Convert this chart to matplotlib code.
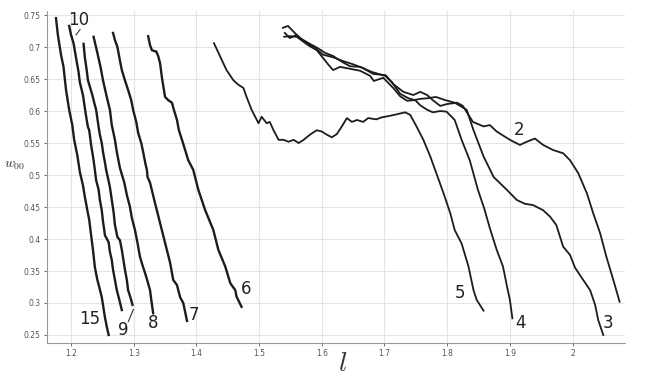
import numpy as np
import matplotlib
import matplotlib.pyplot as plt
from matplotlib.ticker import FixedLocator, FixedFormatter

matplotlib.use("Agg")

# curves, labelled by number
l_15 = [1.176, 1.179, 1.184, 1.188, 1.192, 1.197, 1.202, 1.205, 1.210, 1.214, 1.219, 1.222,
        1.226, 1.229, 1.232, 1.235, 1.238, 1.242, 1.245, 1.249, 1.251, 1.254, 1.257, 1.260]
w_15 = [0.745, 0.719, 0.688, 0.669, 0.633, 0.602, 0.578, 0.555, 0.531, 0.505, 0.484, 0.466,
        0.445, 0.430, 0.406, 0.383, 0.356, 0.336, 0.325, 0.309, 0.297, 0.278, 0.263, 0.250]

l_10 = [1.197, 1.200, 1.204, 1.208, 1.212, 1.214, 1.219, 1.222, 1.225, 1.227, 1.229, 1.232,
        1.236, 1.238, 1.240, 1.244, 1.246, 1.249, 1.251, 1.253, 1.254, 1.260, 1.262, 1.265,
        1.267, 1.270, 1.273, 1.277, 1.281]
w_10 = [0.733, 0.719, 0.706, 0.683, 0.661, 0.645, 0.625, 0.605, 0.586, 0.575, 0.570, 0.547,
        0.523, 0.508, 0.492, 0.477, 0.461, 0.445, 0.427, 0.414, 0.406, 0.395, 0.380, 0.367,
        0.352, 0.336, 0.320, 0.305, 0.289]

l_9 = [1.220, 1.222, 1.225, 1.227, 1.230, 1.234, 1.237, 1.240, 1.244, 1.246, 1.249, 1.251,
       1.254, 1.256, 1.259, 1.262, 1.265, 1.268, 1.270, 1.274, 1.278, 1.281, 1.286, 1.289,
       1.291, 1.295, 1.298]
w_9 = [0.705, 0.684, 0.664, 0.648, 0.638, 0.625, 0.613, 0.602, 0.575, 0.563, 0.550, 0.536,
       0.520, 0.508, 0.495, 0.481, 0.461, 0.441, 0.422, 0.403, 0.398, 0.383, 0.352, 0.336,
       0.320, 0.308, 0.297]

l_8 = [1.236, 1.241, 1.247, 1.251, 1.257, 1.262, 1.265, 1.270, 1.273, 1.278, 1.285, 1.289,
       1.294, 1.297, 1.302, 1.306, 1.310, 1.314, 1.318, 1.322, 1.326, 1.328, 1.331]
w_8 = [0.716, 0.695, 0.669, 0.648, 0.622, 0.602, 0.578, 0.555, 0.536, 0.511, 0.488, 0.469,
       0.450, 0.433, 0.414, 0.394, 0.372, 0.359, 0.347, 0.334, 0.320, 0.305, 0.284]

l_7 = [1.267, 1.270, 1.274, 1.277, 1.281, 1.286, 1.291, 1.296, 1.299, 1.304, 1.307, 1.312,
       1.315, 1.319, 1.321, 1.322, 1.326, 1.334, 1.342, 1.350, 1.358, 1.363, 1.369, 1.374,
       1.379, 1.385]
w_7 = [0.722, 0.711, 0.700, 0.684, 0.664, 0.648, 0.633, 0.617, 0.602, 0.583, 0.566, 0.550,
       0.536, 0.516, 0.508, 0.497, 0.488, 0.456, 0.425, 0.394, 0.363, 0.336, 0.328, 0.309,
       0.300, 0.272]

l_6 = [1.323, 1.326, 1.329, 1.332, 1.336, 1.339, 1.342, 1.345, 1.350, 1.355, 1.361, 1.364,
       1.369, 1.372, 1.377, 1.382, 1.387, 1.395, 1.403, 1.414, 1.427, 1.435, 1.446, 1.454,
       1.462, 1.464, 1.472]
w_6 = [0.717, 0.703, 0.695, 0.694, 0.693, 0.686, 0.675, 0.652, 0.622, 0.617, 0.613, 0.602,
       0.586, 0.570, 0.555, 0.539, 0.523, 0.508, 0.477, 0.445, 0.414, 0.383, 0.357, 0.331,
       0.320, 0.310, 0.294]

l_5 = [1.428, 1.438, 1.448, 1.459, 1.467, 1.475, 1.480, 1.488, 1.499, 1.504, 1.512, 1.517,
       1.523, 1.531, 1.539, 1.547, 1.555, 1.563, 1.571, 1.581, 1.592, 1.600, 1.608, 1.616,
       1.624, 1.632, 1.640, 1.648, 1.656, 1.666, 1.674, 1.687, 1.695, 1.706, 1.720, 1.733,
       1.741, 1.751, 1.762, 1.773, 1.783, 1.794, 1.805, 1.812, 1.823, 1.834, 1.842, 1.847,
       1.858]
w_5 = [0.706, 0.685, 0.664, 0.648, 0.641, 0.636, 0.622, 0.602, 0.581, 0.591, 0.581, 0.583,
       0.570, 0.555, 0.555, 0.552, 0.555, 0.550, 0.555, 0.563, 0.570, 0.568, 0.563, 0.559,
       0.564, 0.576, 0.589, 0.583, 0.586, 0.583, 0.589, 0.587, 0.590, 0.592, 0.595, 0.598,
       0.594, 0.576, 0.555, 0.529, 0.502, 0.472, 0.440, 0.414, 0.393, 0.357, 0.320, 0.305,
       0.288]

l_4 = [1.538, 1.546, 1.554, 1.565, 1.581, 1.594, 1.605, 1.618, 1.632, 1.645, 1.661, 1.680,
       1.701, 1.712, 1.725, 1.738, 1.749, 1.757, 1.768, 1.777, 1.789, 1.799, 1.812, 1.823,
       1.836, 1.849, 1.859, 1.868, 1.879, 1.889, 1.896, 1.900, 1.904]
w_4 = [0.730, 0.733, 0.725, 0.714, 0.705, 0.698, 0.691, 0.686, 0.677, 0.670, 0.669, 0.661,
       0.655, 0.645, 0.627, 0.620, 0.617, 0.609, 0.602, 0.598, 0.600, 0.599, 0.586, 0.555,
       0.523, 0.477, 0.448, 0.417, 0.383, 0.357, 0.323, 0.305, 0.276]

l_3 = [1.540, 1.549, 1.560, 1.578, 1.592, 1.602, 1.610, 1.618, 1.629, 1.645, 1.661, 1.677,
       1.683, 1.698, 1.714, 1.725, 1.736, 1.747, 1.757, 1.769, 1.782, 1.797, 1.812, 1.824,
       1.831, 1.842, 1.858, 1.874, 1.895, 1.911, 1.924, 1.937, 1.953, 1.964, 1.974, 1.985,
       1.996, 2.004, 2.017, 2.028, 2.036, 2.041, 2.049]
w_3 = [0.716, 0.717, 0.716, 0.703, 0.695, 0.683, 0.673, 0.664, 0.669, 0.666, 0.663, 0.655,
       0.647, 0.652, 0.636, 0.623, 0.616, 0.617, 0.619, 0.620, 0.622, 0.617, 0.613, 0.606,
       0.602, 0.570, 0.529, 0.497, 0.477, 0.461, 0.455, 0.453, 0.445, 0.435, 0.422, 0.388,
       0.375, 0.355, 0.336, 0.320, 0.297, 0.273, 0.250]

l_2 = [1.541, 1.549, 1.560, 1.573, 1.591, 1.602, 1.618, 1.634, 1.650, 1.666, 1.682, 1.702,
       1.714, 1.730, 1.746, 1.757, 1.768, 1.777, 1.789, 1.800, 1.816, 1.825, 1.832, 1.841,
       1.858, 1.868, 1.879, 1.900, 1.916, 1.927, 1.940, 1.953, 1.969, 1.985, 1.996, 2.009,
       2.023, 2.033, 2.044, 2.054, 2.065, 2.075]
w_2 = [0.722, 0.714, 0.719, 0.708, 0.697, 0.688, 0.684, 0.678, 0.673, 0.667, 0.658, 0.656,
       0.642, 0.630, 0.625, 0.630, 0.625, 0.617, 0.608, 0.611, 0.613, 0.608, 0.597, 0.583,
       0.576, 0.578, 0.568, 0.555, 0.547, 0.552, 0.557, 0.547, 0.539, 0.534, 0.523, 0.503,
       0.471, 0.440, 0.409, 0.372, 0.336, 0.302]

left_curves = [(l_15, w_15), (l_10, w_10), (l_9, w_9), (l_8, w_8), (l_7, w_7), (l_6, w_6)]
right_curves = [(l_5, w_5), (l_4, w_4), (l_3, w_3), (l_2, w_2)]

curve_labels = ['10', '15', '9', '8', '7', '6', '5', '4', '3', '2']
label_x = [1.212, 1.230, 1.283, 1.331, 1.396, 1.479, 1.821, 1.917, 2.057, 1.915]
label_y = [0.742, 0.275, 0.258, 0.268, 0.282, 0.322, 0.316, 0.268, 0.268, 0.571]

# little pointer strokes for 10 and 9
pointer_10 = ([1.208, 1.2145], [0.719, 0.7275])
pointer_9 = ([1.2915, 1.2995], [0.271, 0.290])

x_ticks = [1.2, 1.3, 1.4, 1.5, 1.6, 1.7, 1.8, 1.9, 2.0]
x_tick_labels = ['1.2', '1.3', '1.4', '1.5', '1.6', '1.7', '1.8', '1.9', '2']
y_ticks = [0.25, 0.3, 0.35, 0.4, 0.45, 0.5, 0.55, 0.6, 0.65, 0.7, 0.75]
y_tick_labels = ['0.25', '0.3', '0.35', '0.4', '0.45', '0.5', '0.55', '0.6', '0.65', '0.7', '0.75']


def make_plot(output_filename):
    plt.rcParams['mathtext.fontset'] = 'cm'
    fig = plt.figure(figsize=(6.68, 3.76), dpi=100)
    ax = fig.add_axes([0.0704, 0.0878, 0.8652, 0.8829])

    for l, w in left_curves:
        ax.plot(l, w, color='#1c1c1c', linewidth=1.7, solid_joinstyle='round')
    for l, w in right_curves:
        ax.plot(l, w, color='#1c1c1c', linewidth=1.3, solid_joinstyle='round')

    for txt, x, y in zip(curve_labels, label_x, label_y):
        ax.text(x, y, txt, fontsize=12, color='#222222', ha='center', va='center')
    ax.plot(*pointer_10, color='#333333', linewidth=0.8)
    ax.plot(*pointer_9, color='#333333', linewidth=0.8)

    ax.set_xlim(1.1617, 2.0836)
    ax.set_ylim(0.2375, 0.7563)
    ax.xaxis.set_major_locator(FixedLocator(x_ticks))
    ax.xaxis.set_major_formatter(FixedFormatter(x_tick_labels))
    ax.yaxis.set_major_locator(FixedLocator(y_ticks))
    ax.yaxis.set_major_formatter(FixedFormatter(y_tick_labels))
    ax.tick_params(labelsize=5.5, colors='#555555', length=2.5, width=0.6, pad=2)

    ax.grid(True, color='#e4e4e4', linewidth=0.8)
    ax.set_axisbelow(True)
    for side in ['top', 'right']:
        ax.spines[side].set_visible(False)
    for side in ['left', 'bottom']:
        ax.spines[side].set_color('#999999')
        ax.spines[side].set_linewidth(0.8)

    fig.text(0.022, 0.56, r'$w_{00}$', fontsize=10, color='#333333', ha='center', va='center')
    fig.text(0.513, 0.035, r'$l$', fontsize=20, color='#333333', ha='center', va='center')

    fig.savefig(output_filename, dpi=100)


def main():
    make_plot('out.png')


if __name__ == "__main__":
    main()
